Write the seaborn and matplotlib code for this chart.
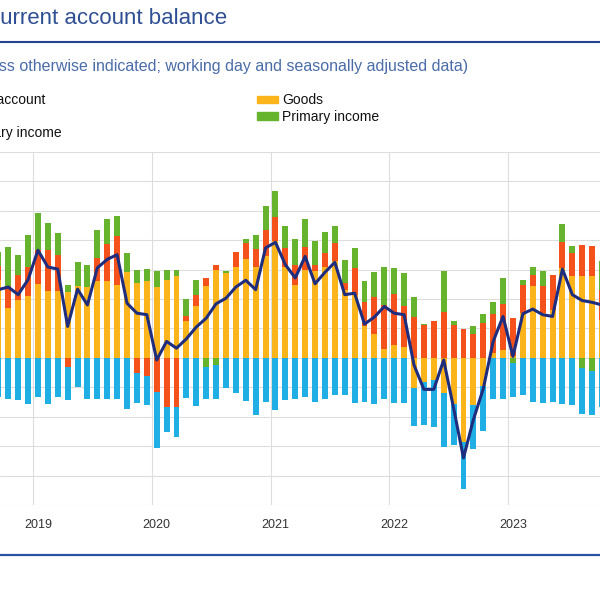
import numpy as np
import pandas as pd
import matplotlib
matplotlib.use("Agg")
import matplotlib.pyplot as plt
import seaborn as sns
from matplotlib.lines import Line2D
from matplotlib.patches import Patch

# monthly data, EUR billions (Sep 2018 - Oct 2023)
months = pd.date_range("2018-09-01", "2023-10-01", freq="MS")

goods = [26.6, 17.0, 19.7, 20.9, 25.2, 22.6, 22.6, 22.3, 24.5, 24.1, 26.0, 26.0,
         24.9, 29.1, 25.5, 26.0, 24.1, 26.6, 28.0, 12.4, 17.5, 24.5, 30.0, 29.0,
         30.9, 33.6, 30.9, 34.8, 39.7, 30.9, 24.9, 29.9, 29.4, 30.9, 32.8, 23.2,
         21.5, 10.7, 8.2, 3.0, 4.4, 3.6, -10.3, -8.1, -7.5, -12.0, -15.5, -28.5,
         -16.0, -9.5, 1.6, 2.7, 0.5, 15.2, 24.5, 15.2, 16.4, 30.6, 27.7, 27.7,
         27.7, 13.0]
services = [4.8, 7.3, 8.5, 10.1, 11.5, 14.1, 12.4, -3.0, 0.0, 0.0, 8.0, 12.8,
            16.7, 0.0, -5.2, -6.1, -11.5, -16.6, -16.6, 1.9, 4.0, 2.7, 1.7, 0.0,
            5.0, 5.3, 6.1, 8.8, 8.3, 6.5, 6.8, 7.7, 2.3, 4.8, 6.1, 2.3,
            9.1, 8.2, 12.5, 15.1, 17.4, 14.1, 13.9, 11.1, 12.4, 15.5, 11.3, 9.8,
            8.2, 12.0, 13.4, 15.7, 13.0, 9.7, 3.8, 9.3, 11.9, 8.7, 7.8, 10.8,
            10.5, 10.2]
primary_income = [4.5, 13.5, 6.8, 10.8, 12.7, 9.3, 7.6, 2.6, 8.0, 7.6, 9.5, 8.5,
                  6.6, 6.4, 4.5, 4.2, 5.3, 3.4, 1.8, 5.7, 5.1, -3.0, -2.4, 0.5,
                  0.0, 1.6, 4.9, 8.2, 8.7, 7.6, 8.8, 9.6, 8.0, 7.1, 6.1, 7.9,
                  6.8, 7.1, 8.4, 12.8, 8.8, 11.2, 6.8, 0.5, 0.0, 13.9, 1.1, 0.0,
                  2.7, 3.0, 3.9, 8.8, -1.6, 1.7, 2.6, 4.9, 0.0, 6.3, 2.5, -3.5,
                  -4.3, 9.6]
secondary_income = [-13.2, -14.1, -14.3, -15.7, -13.4, -15.7, -13.2, -11.3, -9.8, -14.1, -14.1, -14.1,
                    -13.8, -17.5, -10.0, -9.9, -19.0, -8.5, -10.2, -13.5, -16.2, -10.8, -11.7, -10.3,
                    -12.0, -14.5, -19.4, -14.9, -17.7, -14.3, -13.8, -13.2, -14.9, -13.8, -12.6, -12.6,
                    -15.2, -14.9, -15.5, -14.1, -15.2, -15.2, -12.9, -14.7, -15.9, -18.2, -14.0, -15.9,
                    -15.1, -15.5, -14.1, -13.8, -11.6, -12.6, -14.9, -15.2, -14.9, -15.7, -16.0, -15.4,
                    -15.1, -16.6]
current_account = [23.2, 24.1, 21.5, 26.6, 36.6, 30.9, 30.2, 10.7, 23.4, 18.0, 30.6, 33.5,
                   35.1, 18.6, 15.2, 14.7, -0.7, 5.6, 3.3, 6.5, 10.5, 13.5, 18.4, 20.3,
                   24.1, 26.4, 23.2, 37.4, 39.3, 31.7, 27.2, 34.5, 25.2, 29.1, 32.5, 21.5,
                   22.0, 11.5, 13.9, 17.5, 15.2, 14.7, -2.4, -10.7, -10.7, -0.7, -17.0, -34.0,
                   -21.0, -10.5, 5.6, 14.1, 0.5, 15.0, 16.6, 14.7, 14.1, 30.2, 21.5, 19.5,
                   18.9, 18.0]

comp_labels = ["Goods", "Services", "Primary income", "Secondary income"]
comp_colors = ["#fbb41a", "#f4521a", "#66b32e", "#20afe5"]
line_color = "#1f2d7f"

sns.set_style("white")
plt.rcParams["font.family"] = ["Liberation Sans", "DejaVu Sans"]

W, H = 600, 600
fig = plt.figure(figsize=(6, 6), dpi=100)
renderer = fig.canvas.get_renderer()

def text_width(s, **kw):
    t = fig.text(0, 0, s, **kw)
    w = t.get_window_extent(renderer).width
    t.remove()
    return w

# plot area (picture is cropped left and right)
ax = fig.add_axes([0, (H - 505) / H, 1, 353 / H])
x = np.arange(len(months))

pos = np.zeros(len(x))
neg = np.zeros(len(x))
for vals, col in zip([goods, services, primary_income, secondary_income], comp_colors):
    v = np.array(vals)
    base = np.where(v >= 0, pos, neg)
    ax.bar(x, v, bottom=base, width=0.6, color=col, linewidth=0, zorder=2)
    pos += np.where(v >= 0, v, 0)
    neg += np.where(v < 0, v, 0)

sns.lineplot(x=x, y=current_account, ax=ax, color=line_color, linewidth=2.2, zorder=3)

jan = [i for i, m in enumerate(months) if m.month == 1]
ax.set_xticks(jan)
ax.set_xticklabels([str(months[i].year) for i in jan])
ax.set_xticks([j - 0.5 for j in jan], minor=True)
ax.set_yticks(range(-50, 71, 10))
px_month = 118.75 / 12
ax.set_xlim(jan[0] - 0.5 - 33 / px_month, jan[0] - 0.5 + 567 / px_month)
ax.set_ylim(-50, 70)
ax.grid(False)
ax.grid(which="minor", axis="x", color="#dddddd", linewidth=0.8)
ax.grid(which="major", axis="y", color="#dddddd", linewidth=0.8)
ax.set_axisbelow(True)
ax.tick_params(which="both", length=0)
ax.tick_params(axis="x", labelsize=9, labelcolor="#333333", pad=10)
ax.tick_params(axis="y", labelleft=False)
for s in ax.spines.values():
    s.set_visible(False)
ax.set_xlabel("")
ax.set_ylabel("")

# title and subtitle, cropped at the left edge
title_kw = dict(fontsize=16, color="#2f4f93")
full = "Euro area current account balance"
rest = "urrent account balance"
off = text_width(full, **title_kw) - text_width(rest, **title_kw)
fig.text(-off / W, 1 - 24 / H, full, va="baseline", **title_kw)

sub_kw = dict(fontsize=11.5, color="#4a6ca8")
full = "(EUR billions, unless otherwise indicated; working day and seasonally adjusted data)"
rest = "ss otherwise indicated; working day and seasonally adjusted data)"
off = text_width(full, **sub_kw) - text_width(rest, **sub_kw)
fig.text((-off - 1) / W, 1 - 71.5 / H, full, va="baseline", **sub_kw)

fig.add_artist(Line2D([0, 1], [1 - 42 / H, 1 - 42 / H], transform=fig.transFigure,
                      color="#26438f", linewidth=1.5))
fig.add_artist(Line2D([0, 1], [1 - 555 / H, 1 - 555 / H], transform=fig.transFigure,
                      color="#2a52a0", linewidth=1.6))

# legend: two columns, left one mostly off the picture
fs = 10
fs_px = fs * 100 / 72
hl, htp = 1.5, 0.3
leg_kw = dict(fontsize=fs)
text_start = -3.7 - text_width("Current account", **leg_kw) + text_width("account", **leg_kw)
w_sec = text_width("Secondary income", **leg_kw)
colspace = (257 - (text_start + w_sec)) / fs_px
anchor_x = text_start - (hl + htp) * fs_px

handles = [Line2D([], [], color=line_color, linewidth=2.2, label="Current account"),
           Patch(color=comp_colors[1], label="Services"),
           Patch(color=comp_colors[3], label="Secondary income"),
           Patch(color=comp_colors[0], label="Goods"),
           Patch(color=comp_colors[2], label="Primary income")]
fig.legend(handles=handles, loc="upper left", ncol=2, frameon=False,
           bbox_to_anchor=(anchor_x / W, 1 - 93.5 / H), bbox_transform=fig.transFigure,
           borderaxespad=0, borderpad=0, handlelength=hl, handletextpad=htp,
           handleheight=0.45, columnspacing=colspace, labelspacing=0.18,
           fontsize=fs, labelcolor="#111111")

fig.savefig("out.png", dpi=100)
